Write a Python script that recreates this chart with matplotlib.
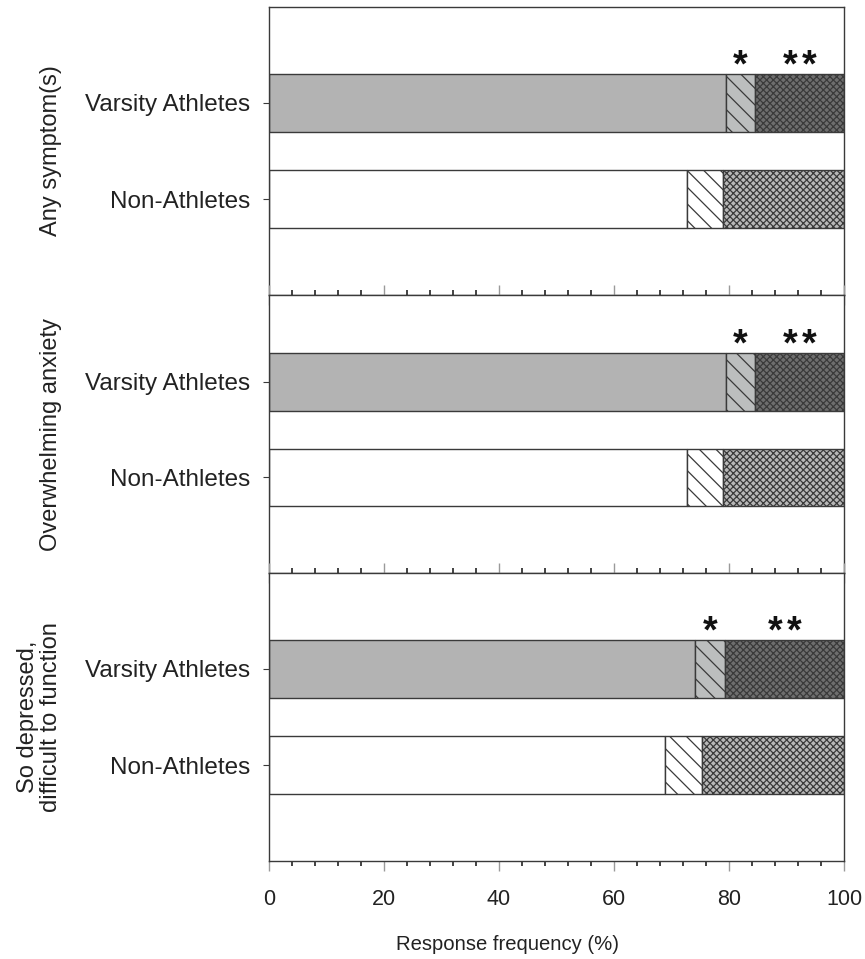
import matplotlib.pyplot as plt
from matplotlib.ticker import MultipleLocator

plt.rcParams['font.family'] = ['Liberation Sans', 'DejaVu Sans']
plt.rcParams['hatch.linewidth'] = 0.9

panels = ["Any symptom(s)", "Overwhelming anxiety", "So depressed,\ndifficult to function"]
groups = ["Varsity Athletes", "Non-Athletes"]

# segments: none / some / high (response frequency, %)
athletes = [[79.4, 5.1, 15.5], [79.4, 5.1, 15.5], [74.1, 5.2, 20.7]]
non_athletes = [[72.7, 6.3, 21.0], [72.7, 6.3, 21.0], [68.8, 6.5, 24.7]]
stars = [1, 2]  # number of asterisks over segments 2 and 3

# axes boxes in figure pixels (top, bottom)
W, H = 865, 959
boxes = [(7, 295), (295, 573), (573, 861)]
ylims = [(3, 0), (3, 0.09), (3, 0)]

fig = plt.figure(figsize=(W / 100, H / 100), dpi=100)
edge = "#3a3a3a"
txt = "#222222"

styles = {
    "Varsity Athletes": [dict(color="#b3b3b3", hatch=None),
                         dict(color="#bcbebe", hatch="\\\\"),
                         dict(color="#6e6e6e", hatch="xxxxx")],
    "Non-Athletes": [dict(color="white", hatch=None),
                     dict(color="white", hatch="\\\\"),
                     dict(color="#b8b8b8", hatch="xxxxx")],
}

for i, name in enumerate(panels):
    top, bot = boxes[i]
    ax = fig.add_axes([269 / W, 1 - bot / H, 575 / W, (bot - top) / H])
    ax.set_xlim(0, 100)
    ax.set_ylim(*ylims[i])
    for j, (g, vals) in enumerate(zip(groups, [athletes[i], non_athletes[i]])):
        left = 0
        for k, v in enumerate(vals):
            st = styles[g][k]
            ax.barh(j + 1, v, left=left, height=0.6, color=st["color"],
                    edgecolor=edge, linewidth=1.0, hatch=st["hatch"], zorder=2)
            if g == "Varsity Athletes" and k > 0:
                n = stars[k - 1]
                for m in range(n):
                    off = (m - (n - 1) / 2) * 3.3
                    ax.text(left + v / 2 + off, j + 1 - 0.3 + 0.02, "*",
                            ha="center", va="baseline", fontsize=27,
                            fontweight="bold", color="#111111", zorder=3)
            left += v
    ax.set_yticks([1, 2])
    ax.set_yticklabels(groups, fontsize=17.5, color=txt)
    ax.tick_params(axis="y", length=4.3, width=0.8, color=edge, pad=9.4)
    ax.xaxis.set_major_locator(MultipleLocator(20))
    ax.xaxis.set_minor_locator(MultipleLocator(4))
    ax.tick_params(axis="x", which="major", direction="out", length=7.2,
                   width=1.0, color="#9a9a9a", top=(i > 0), labelsize=15.5,
                   labelcolor=txt, pad=12.8)
    ax.tick_params(axis="x", which="minor", direction="out", length=3.6,
                   width=1.2, color="#222222", top=(i > 0))
    if i < 2:
        ax.tick_params(axis="x", which="both", labelbottom=False)
    for s in ax.spines.values():
        s.set_color(edge)
        s.set_linewidth(1.0)
    ax.set_ylabel(name, fontsize=17, color=txt, linespacing=1.05)
    ax.yaxis.set_label_coords(-0.36, 0.5)
    if i == 2:
        ax.set_xlabel("Response frequency (%)", fontsize=14.6, color=txt)
        ax.xaxis.set_label_coords(0.414, -0.258)

fig.savefig("out.png", dpi=100, facecolor="white")
